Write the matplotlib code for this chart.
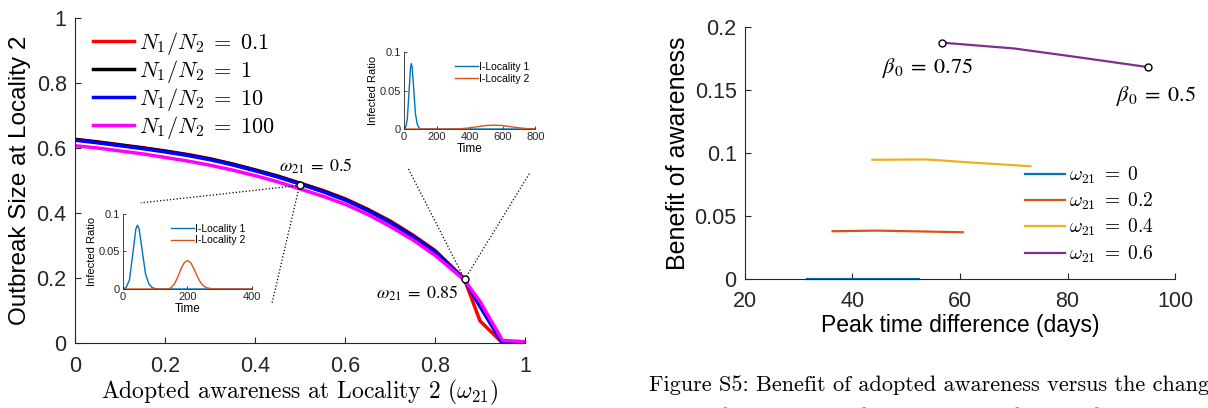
import matplotlib
matplotlib.use("Agg")
import matplotlib.pyplot as plt

plt.rcParams['font.family'] = ['Liberation Sans', 'DejaVu Sans']
plt.rcParams['mathtext.fontset'] = 'cm'
plt.rcParams['axes.edgecolor'] = '#262626'
plt.rcParams['xtick.color'] = '#262626'
plt.rcParams['ytick.color'] = '#262626'

# --- left panel: outbreak size vs adopted awareness
w21 = [0, 0.05, 0.1, 0.15, 0.2, 0.25, 0.3, 0.35, 0.4, 0.45, 0.5,
       0.55, 0.6, 0.65, 0.7, 0.75, 0.8, 0.865, 0.9, 0.95, 1.0]
out_r01 = [0.627, 0.619, 0.610, 0.601, 0.591, 0.580, 0.567, 0.551, 0.533, 0.514, 0.492,
           0.470, 0.444, 0.412, 0.376, 0.333, 0.285, 0.198, 0.068, 0.0, 0.0]
out_r1 = [0.626, 0.618, 0.609, 0.600, 0.590, 0.579, 0.566, 0.550, 0.532, 0.513, 0.491,
          0.468, 0.442, 0.410, 0.373, 0.330, 0.282, 0.196, 0.113, 0.0, 0.0]
out_r10 = [0.624, 0.616, 0.607, 0.598, 0.588, 0.577, 0.564, 0.548, 0.530, 0.511, 0.489,
           0.466, 0.440, 0.408, 0.371, 0.328, 0.280, 0.195, 0.113, 0.0, 0.0]
out_r100 = [0.607, 0.600, 0.591, 0.582, 0.571, 0.560, 0.547, 0.532, 0.515, 0.496, 0.474,
            0.452, 0.427, 0.396, 0.359, 0.318, 0.270, 0.194, 0.128, 0.008, 0.004]
ratio_labels = [r'$N_1/N_2\;=\;0.1$', r'$N_1/N_2\;=\;1$', r'$N_1/N_2\;=\;10$', r'$N_1/N_2\;=\;100$']

# inset at w21 = 0.5
t_a1 = [0, 10, 20, 30, 40, 45, 50, 60, 70, 80, 90, 100, 120, 400]
i_a1 = [0, 0.002, 0.012, 0.045, 0.080, 0.085, 0.080, 0.050, 0.020, 0.007, 0.002, 0.0005, 0, 0]
t_a2 = [0, 140, 150, 160, 170, 180, 190, 200, 210, 220, 230, 240, 250, 260, 280, 400]
i_a2 = [0, 0, 0.002, 0.007, 0.016, 0.027, 0.035, 0.038, 0.035, 0.027, 0.017, 0.009, 0.004, 0.0015, 0, 0]
# inset at w21 = 0.85
t_b1 = [0, 10, 20, 30, 40, 45, 50, 60, 70, 80, 90, 100, 800]
i_b1 = [0, 0.002, 0.012, 0.045, 0.080, 0.085, 0.080, 0.050, 0.020, 0.007, 0.002, 0, 0]
t_b2 = [0, 300, 350, 400, 450, 500, 550, 600, 650, 700, 750, 800]
i_b2 = [0, 0, 0.0005, 0.0015, 0.003, 0.0045, 0.005, 0.0045, 0.003, 0.0015, 0.0005, 0]

# --- right panel: benefit vs peak time difference
peak_w0 = [31.6, 40.0, 52.3]
ben_w0 = [0, 0, 0]
peak_w2 = [36.3, 44.5, 52.0, 60.5]
ben_w2 = [0.0379, 0.0384, 0.0378, 0.0371]
peak_w4 = [43.7, 53.7, 63.0, 73.1]
ben_w4 = [0.0946, 0.0949, 0.0922, 0.0895]
peak_w6 = [56.6, 70.0, 82.0, 94.9]
ben_w6 = [0.1876, 0.1830, 0.1760, 0.1682]
omega_labels = [r'$\omega_{21}\;=\;0$', r'$\omega_{21}\;=\;0.2$', r'$\omega_{21}\;=\;0.4$',
                r'$\omega_{21}\;=\;0.6$']

fig = plt.figure(figsize=(12.08, 4.08), dpi=100)

# left main axes
ax = fig.add_axes([0.0621, 0.1593, 0.3725, 0.7966])
for ys, c in zip([out_r01, out_r1, out_r10, out_r100], ['red', 'black', 'blue', 'magenta']):
    ax.plot(w21, ys, color=c, lw=2.5)
ax.set_xlim(0, 1)
ax.set_ylim(0, 1)
ax.set_xticks([0, 0.2, 0.4, 0.6, 0.8, 1])
ax.set_yticks([0, 0.2, 0.4, 0.6, 0.8, 1])
ax.xaxis.set_major_formatter(lambda v, p: f'{v:g}')
ax.yaxis.set_major_formatter(lambda v, p: f'{v:g}')
ax.tick_params(direction='in', labelsize=15.5, length=4, width=0.8)
ax.tick_params(axis='x', pad=9)
ax.tick_params(axis='y', pad=6)
for s in ['top', 'right']:
    ax.spines[s].set_visible(False)
ax.set_ylabel('Outbreak Size at Locality 2', fontsize=17.5, labelpad=4)
ax.set_xlabel(r'Adopted awareness at Locality 2 ($\omega_{21}$)', fontsize=17,
              family='cmr10', labelpad=1)
leg = ax.legend(ratio_labels, loc='center', bbox_to_anchor=(0.242, 0.792), frameon=False,
                fontsize=16, handlelength=1.85, handletextpad=0.2, labelspacing=0.05,
                borderpad=0, borderaxespad=0)

# annotation markers and zoom lines
ax.plot([0.499, 0.146], [0.485, 0.431], ls=':', color='black', lw=0.9, clip_on=False)
ax.plot([0.499, 0.438], [0.485, 0.124], ls=':', color='black', lw=0.9, clip_on=False)
ax.plot([0.866, 0.740], [0.196, 0.538], ls=':', color='black', lw=0.9, clip_on=False)
ax.plot([0.866, 1.01], [0.196, 0.522], ls=':', color='black', lw=0.9, clip_on=False)
ax.plot([0.499, 0.866], [0.485, 0.196], ls='none', marker='o', ms=5, mfc='white',
        mec='black', mew=1, clip_on=False)
ax.text(0.453, 0.544, r'$\omega_{21}\;=\;0.5$', fontsize=13, va='center', math_fontfamily='stix')
ax.text(0.668, 0.153, r'$\omega_{21}\;=\;0.85$', fontsize=13, va='center', math_fontfamily='stix')


def inset(rect, t1, i1, t2, i2, xticks):
    a = fig.add_axes(rect)
    a.plot(t1, i1, color='#0072BD', lw=1.0, label='I-Locality 1')
    a.plot(t2, i2, color='#D95319', lw=1.0, label='I-Locality 2')
    a.set_xlim(xticks[0], xticks[-1])
    a.set_ylim(0, 0.1)
    a.set_xticks(xticks)
    a.set_yticks([0, 0.05, 0.1])
    a.yaxis.set_major_formatter(lambda v, p: f'{v:g}')
    a.tick_params(direction='in', labelsize=8, length=2, width=0.6, pad=2)
    for s in ['top', 'right']:
        a.spines[s].set_visible(False)
    for s in ['left', 'bottom']:
        a.spines[s].set_linewidth(0.6)
    a.set_xlabel('Time', fontsize=8.5, labelpad=1)
    a.set_ylabel('Infected Ratio', fontsize=8, labelpad=1)
    a.patch.set_alpha(0)
    a.legend(loc='upper right', frameon=False, fontsize=7.5, handlelength=2.2,
             handletextpad=0.1, labelspacing=0.15, borderaxespad=0.2, bbox_to_anchor=(1.0, 0.95))
    return a


inset([0.1018, 0.2917, 0.1068, 0.184], t_a1, i_a1, t_a2, i_a2, [0, 200, 400])
inset([0.3344, 0.6838, 0.1088, 0.1887], t_b1, i_b1, t_b2, i_b2, [0, 200, 400, 600, 800])

# right axes
ax2 = fig.add_axes([0.6167, 0.3162, 0.3560, 0.6176])
for xs, ys, c in zip([peak_w0, peak_w2, peak_w4, peak_w6], [ben_w0, ben_w2, ben_w4, ben_w6],
                     ['#0072BD', '#D95319', '#EDB120', '#7E2F8E']):
    ax2.plot(xs, ys, color=c, lw=1.6, clip_on=False)
ax2.plot([peak_w6[0], peak_w6[-1]], [ben_w6[0], ben_w6[-1]], ls='none', marker='o', ms=5,
         mfc='white', mec='black', mew=1, clip_on=False)
ax2.set_xlim(20, 100)
ax2.set_ylim(0, 0.2)
ax2.set_xticks([20, 40, 60, 80, 100])
ax2.set_yticks([0, 0.05, 0.1, 0.15, 0.2])
ax2.yaxis.set_major_formatter(lambda v, p: f'{v:g}')
ax2.tick_params(direction='in', labelsize=15.5, length=4, width=0.8)
ax2.tick_params(axis='x', pad=9)
ax2.tick_params(axis='y', pad=6)
for s in ['top', 'right']:
    ax2.spines[s].set_visible(False)
ax2.set_ylabel('Benefit of awareness', fontsize=18, labelpad=3)
ax2.set_xlabel('Peak time difference (days)', fontsize=16.5, labelpad=1)
ax2.legend(omega_labels, loc='center', bbox_to_anchor=(0.80, 0.255), frameon=False,
           fontsize=14, handlelength=2.05, handletextpad=0.2, labelspacing=0.25,
           borderpad=0, borderaxespad=0)
ax2.text(45.5, 0.1677, r'$\beta_0\;=\;0.75$', fontsize=16, va='center', math_fontfamily='stix')
ax2.text(89.1, 0.145, r'$\beta_0\;=\;0.5$', fontsize=16, va='center', math_fontfamily='stix',
         clip_on=False)

# caption fragment below the right panel (cut by the figure edge, as in the source)
fig.text(0.537, 0.055, 'Figure S5: Benefit of adopted awareness versus the change in population',
         family='cmr10', fontsize=16, va='center')
fig.text(0.537, -0.022, 'in population versus the infection peak time changes. We let',
         family='cmr10', fontsize=16, va='center')

fig.savefig('out.png', dpi=100)
